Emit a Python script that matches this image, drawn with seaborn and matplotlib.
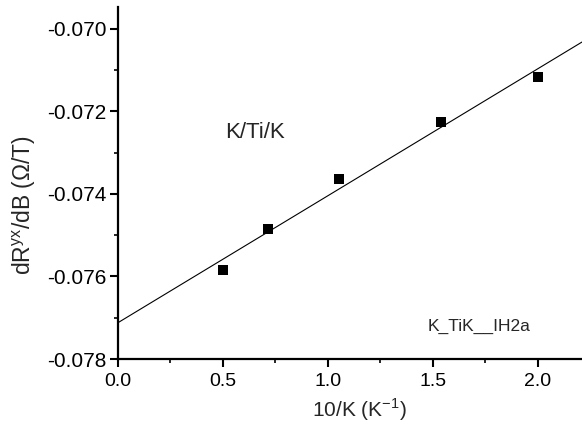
import numpy as np
import pandas as pd
import matplotlib
matplotlib.use("Agg")
import matplotlib.pyplot as plt
import seaborn as sns
from matplotlib.ticker import MultipleLocator, FormatStrFormatter

# data
inv_k = [0.50, 0.714, 1.052, 1.538, 2.00]
dRdB = [-0.07584, -0.07485, -0.07364, -0.07225, -0.07116]
x_ticks = [0.0, 0.5, 1.0, 1.5, 2.0]
y_ticks = [-0.078, -0.076, -0.074, -0.072, -0.070]

df = pd.DataFrame({"x": inv_k, "y": dRdB})

sns.set_style("ticks")
plt.rcParams['font.family'] = ['Liberation Sans', 'DejaVu Sans']

fig = plt.figure(figsize=(5.82, 4.24), dpi=100)
ax = fig.add_axes([0.2027, 0.1533, 0.7973, 0.8302])
ax.set_xlim(0, 2.21)
ax.set_ylim(-0.078, -0.06947)

sns.regplot(data=df, x="x", y="y", ax=ax, ci=None, truncate=False,
            marker="s",
            scatter_kws=dict(s=52, color="black", alpha=1, edgecolors="none", zorder=3),
            line_kws=dict(color="black", lw=0.8))

ax.set_xlim(0, 2.21)
ax.set_ylim(-0.078, -0.06947)
ax.set_xticks(x_ticks)
ax.set_yticks(y_ticks)
ax.xaxis.set_major_formatter(FormatStrFormatter('%.1f'))
ax.yaxis.set_major_formatter(FormatStrFormatter('%.3f'))
ax.xaxis.set_minor_locator(MultipleLocator(0.25))
ax.yaxis.set_minor_locator(MultipleLocator(0.001))
ax.tick_params(which='major', direction='out', length=6, width=1.5, colors='black')
ax.tick_params(axis='y', which='major', labelsize=15, pad=2)
ax.tick_params(axis='x', which='major', labelsize=14, pad=4)
ax.tick_params(which='minor', direction='out', length=3, width=1.2, colors='black')

for s in ['top', 'right']:
    ax.spines[s].set_visible(False)
for s in ['left', 'bottom']:
    ax.spines[s].set_linewidth(1.6)
    ax.spines[s].set_color('black')

ax.set_xlabel(r"10/K (K$^{\mathregular{-1}}$)", fontsize=15)
ax.set_ylabel(r"dR$^{\mathregular{yx}}$/dB ($\mathregular{\Omega}$/T)", fontsize=16.5)
ax.xaxis.set_label_coords(0.52, -0.105)
ax.yaxis.set_label_coords(-0.172, 0.4375)

ax.text(0.51, -0.07252, "K/Ti/K", fontsize=16, va='center', ha='left')
ax.text(1.476, -0.07722, "K_TiK__IH2a", fontsize=12.5, va='center', ha='left')

fig.savefig("out.png", dpi=100)
